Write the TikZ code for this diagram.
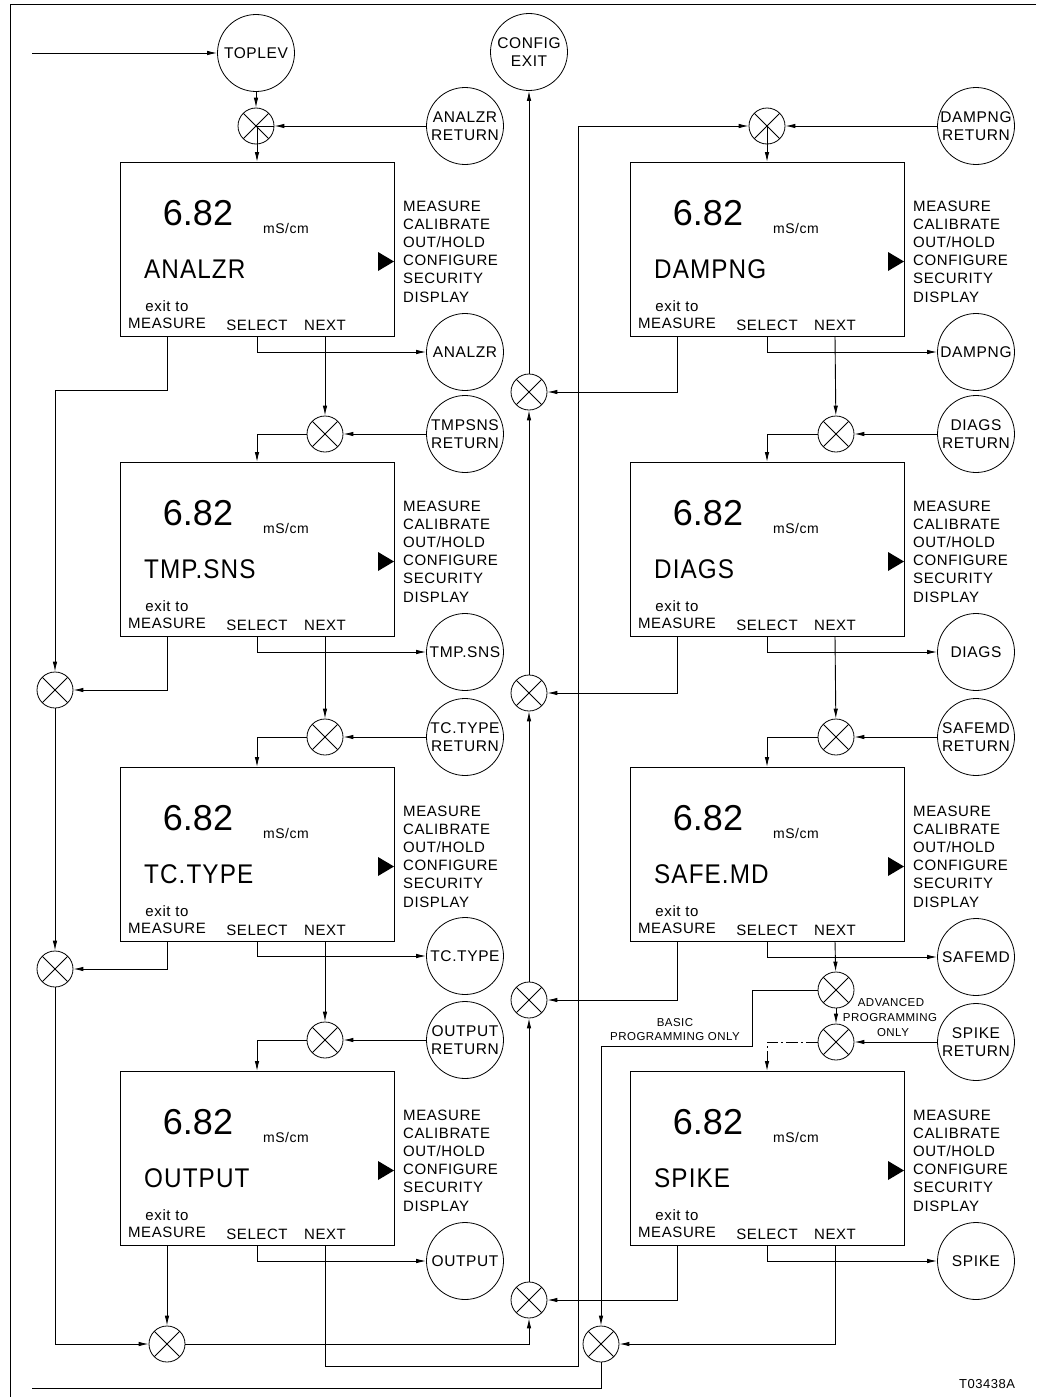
\documentclass[tikz,border=0pt]{standalone}
\usepackage{fontspec}
\setmainfont{Liberation Sans}
\newfontfamily\lcdfont[FakeStretch=0.9,LetterSpace=4]{Liberation Sans}
\newfontfamily\trackfont[LetterSpace=4]{Liberation Sans}
\usetikzlibrary{positioning,calc,arrows.meta}

\tikzset{
  screen/.style={rectangle, draw, line width=1.2pt, minimum width=274pt, minimum height=174pt, anchor=north west, inner sep=0pt},
  bubble/.style={circle, draw, line width=0.8pt, minimum size=77pt, inner sep=0pt, align=center, font=\trackfont\fontsize{15.5}{18}\selectfont},
  mixer/.style={circle, draw, line width=0.8pt, minimum size=36pt, inner sep=0pt,
    path picture={\draw[line width=0.8pt] (path picture bounding box.north west) -- (path picture bounding box.south east)
      (path picture bounding box.north east) -- (path picture bounding box.south west);}},
  bignum/.style={anchor=base, inner sep=0pt, font=\fontsize{36}{40}\selectfont},
  unit/.style={anchor=base, inner sep=0pt, font=\trackfont\fontsize{14}{16}\selectfont},
  lcd/.style={anchor=base west, inner sep=0pt, font=\lcdfont\fontsize{27}{30}\selectfont},
  key/.style={anchor=base, inner sep=0pt, font=\trackfont\fontsize{15}{18}\selectfont},
  menu/.style={anchor=base west, inner sep=0pt, font=\trackfont\fontsize{15}{18}\selectfont},
  note/.style={anchor=base, inner sep=0pt, font=\trackfont\fontsize{11.5}{14}\selectfont},
  wire/.style={line width=0.9pt},
  flow/.style={line width=0.9pt, -{Latex[length=10pt,width=4.5pt]}}
}

\begin{document}
\begin{tikzpicture}[x=1pt,y=-1pt]
\useasboundingbox (0,0) rectangle (1036,1397);
% frame
\draw[wire] (1036,4) -- (10,4) -- (10,1397);

% display screens
\foreach \n/\bx/\by/\lbl in {analzr/120/162/ANALZR, tmpsns/120/462/TMP.SNS, tctype/120/767/TC.TYPE, output/120/1071/OUTPUT,
    dampng/630/162/DAMPNG, diags/630/462/DIAGS, safemd/630/767/SAFE.MD, spike/630/1071/SPIKE}{
  \node[screen] (\n) at (\bx,\by) {};
  \node[bignum] at (\bx+78,\by+63) {6.82};
  \node[unit] at (\bx+166,\by+71) {mS/cm};
  \node[lcd] at (\bx+24,\by+116) {\lbl};
  \node[key] at (\bx+47,\by+149.5) {exit to};
  \node[key] at (\bx+47,\by+166) {MEASURE};
  \node[key] at (\bx+137,\by+168) {SELECT};
  \node[key] at (\bx+205,\by+168) {NEXT};
  \fill (\bx+258,\by+90) -- (\bx+274,\by+99.5) -- (\bx+258,\by+109) -- cycle;
  \foreach \t [count=\i] in {MEASURE,CALIBRATE,{OUT/HOLD},CONFIGURE,SECURITY,DISPLAY}
    \node[menu] at (\bx+283,\by+30.8+18.2*\i) {\t};
  \coordinate (\n-in) at (\bx+137,\by);
  \coordinate (\n-m) at (\bx+47,\by+174);
  \coordinate (\n-s) at (\bx+137,\by+174);
  \coordinate (\n-n) at (\bx+205,\by+174);
}

% menu bubbles
\node[bubble] (toplev) at (256,53) {TOPLEV};
\node[bubble] (cfgexit) at (529,52) {CONFIG\\EXIT};
\foreach \n/\xc/\yr/\ys/\rt/\ct in {analzr/465/126/352/ANALZR/ANALZR, tmpsns/465/434/652/TMPSNS/TMP.SNS,
    tctype/465/737/956/TC.TYPE/TC.TYPE, output/465/1040/1261/OUTPUT/OUTPUT,
    dampng/976/126/352/DAMPNG/DAMPNG, diags/976/434/652/DIAGS/DIAGS,
    safemd/976/737/957/SAFEMD/SAFEMD, spike/976/1042/1261/SPIKE/SPIKE}{
  \node[bubble] (r-\n) at (\xc,\yr) {\rt\\RETURN};
  \node[bubble] (c-\n) at (\xc,\ys) {\ct};
}

% junctions
\node[mixer] (m-analzr) at (256,126) {};
\node[mixer] (m-tmpsns) at (325,434) {};
\node[mixer] (m-tctype) at (325,737) {};
\node[mixer] (m-output) at (325,1040) {};
\node[mixer] (m-dampng) at (767,126) {};
\node[mixer] (m-diags) at (836,434) {};
\node[mixer] (m-safemd) at (836,737) {};
\node[mixer] (madv) at (836,990) {};
\node[mixer] (m-spike) at (836,1042) {};
\node[mixer] (jl1) at (55,690) {};
\node[mixer] (jl2) at (55,969) {};
\node[mixer] (jl3) at (167,1344) {};
\node[mixer] (jc1) at (529,392) {};
\node[mixer] (jc2) at (529,693) {};
\node[mixer] (jc3) at (529,1000) {};
\node[mixer] (jc4) at (529,1300) {};
\node[mixer] (jr) at (601,1344) {};

\coordinate (inlet) at (32,53);
\coordinate (outlet) at (32,1388);
\coordinate (loopbend) at (578,1366);
\coordinate (basicbend) at (752,1046);

% entry, return and select paths
\draw[flow] (inlet) -- (toplev);
\draw[flow] (toplev) -- (m-analzr);
\foreach \n in {analzr,tmpsns,tctype,output,dampng,diags,safemd}{
  \draw[flow] (r-\n) -- (m-\n);
  \draw[flow] (m-\n) -| (\n-in);
}
\draw[flow] (r-spike) -- (m-spike);
\draw[flow, dash pattern=on 12pt off 3pt on 2pt off 3pt] (m-spike) -| (spike-in);
\foreach \n in {analzr,tmpsns,tctype,output,dampng,diags,safemd,spike}
  \draw[flow] (\n-s) |- (c-\n);

% next paths
\foreach \a/\b in {analzr/tmpsns,tmpsns/tctype,tctype/output,dampng/diags,diags/safemd}
  \draw[flow] (\a-n) -- (m-\b);
\draw[flow] (output-n) |- (loopbend) |- (m-dampng);
\draw[flow] (safemd-n) -- (madv);
\draw[flow] (madv) -- (m-spike);
\draw[flow] (madv) -| (basicbend) -| (jr);
\draw[flow] (spike-n) |- (jr);
\draw[wire] (jr) |- (outlet);

% exit to measure paths
\draw[flow] (analzr-m) -- ++(0,54) -| (jl1);
\draw[flow] (tmpsns-m) |- (jl1);
\draw[flow] (jl1) -- (jl2);
\draw[flow] (tctype-m) |- (jl2);
\draw[flow] (jl2) |- (jl3);
\draw[flow] (output-m) -- (jl3);
\draw[flow] (jl3) -| (jc4);
\draw[flow] (jc4) -- (jc3);
\draw[flow] (jc3) -- (jc2);
\draw[flow] (jc2) -- (jc1);
\draw[flow] (jc1) -- (cfgexit);
\draw[flow] (dampng-m) |- (jc1);
\draw[flow] (diags-m) |- (jc2);
\draw[flow] (safemd-m) |- (jc3);
\draw[flow] (spike-m) |- (jc4);

% notes
\node[note] at (675,1026.7) {BASIC};
\node[note] at (675,1040.7) {PROGRAMMING ONLY};
\node[note] at (891,1006.7) {ADVANCED};
\node[note] at (890,1021.7) {PROGRAMMING};
\node[note] at (893,1036) {ONLY};
\node[note, font=\trackfont\fontsize{13}{15}\selectfont] at (987,1388.5) {T03438A};
\end{tikzpicture}
\end{document}
